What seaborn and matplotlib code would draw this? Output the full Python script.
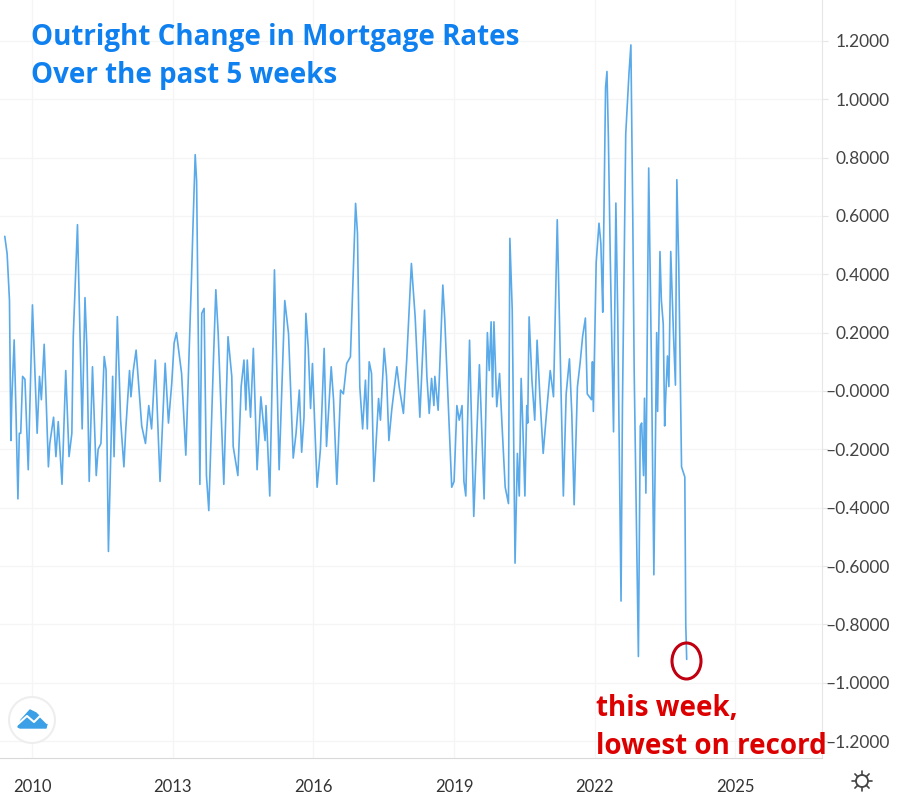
import matplotlib
matplotlib.use("Agg")
import matplotlib.pyplot as plt
from matplotlib.patches import Circle, Ellipse, Polygon
import numpy as np
import pandas as pd
import seaborn as sns

# dates as decimal years
years = [
	2009.42, 2009.47, 2009.52, 2009.55, 2009.57, 2009.62, 2009.66, 2009.70, 2009.73, 2009.76,
	2009.80, 2009.85, 2009.92, 2010.01, 2010.11, 2010.16, 2010.20, 2010.26, 2010.30, 2010.35,
	2010.38, 2010.46, 2010.51, 2010.56, 2010.64, 2010.72, 2010.79, 2010.85, 2010.88, 2010.97,
	2011.07, 2011.13, 2011.17, 2011.22, 2011.29, 2011.37, 2011.41, 2011.47, 2011.54, 2011.58,
	2011.63, 2011.72, 2011.75, 2011.82, 2011.89, 2011.96, 2012.00, 2012.08, 2012.11, 2012.16,
	2012.22, 2012.34, 2012.42, 2012.49, 2012.55, 2012.63, 2012.73, 2012.84, 2012.91, 2012.98,
	2013.03, 2013.08, 2013.19, 2013.28, 2013.40, 2013.43, 2013.48, 2013.51, 2013.58, 2013.62,
	2013.67, 2013.72, 2013.77, 2013.87, 2013.92, 2013.97, 2014.09, 2014.18, 2014.26, 2014.29,
	2014.39, 2014.46, 2014.52, 2014.56, 2014.59, 2014.66, 2014.72, 2014.80, 2014.88, 2014.97,
	2014.99, 2015.07, 2015.17, 2015.27, 2015.39, 2015.47, 2015.57, 2015.63, 2015.70, 2015.75,
	2015.80, 2015.84, 2015.89, 2015.94, 2015.98, 2016.08, 2016.15, 2016.23, 2016.28, 2016.38,
	2016.43, 2016.50, 2016.58, 2016.64, 2016.71, 2016.79, 2016.90, 2016.94, 2016.99, 2017.05,
	2017.11, 2017.15, 2017.19, 2017.24, 2017.29, 2017.39, 2017.43, 2017.51, 2017.56, 2017.61,
	2017.67, 2017.78, 2017.83, 2017.92, 2017.99, 2018.09, 2018.17, 2018.27, 2018.37, 2018.42,
	2018.47, 2018.52, 2018.57, 2018.59, 2018.66, 2018.76, 2018.80, 2018.84, 2018.95, 2019.00,
	2019.06, 2019.11, 2019.17, 2019.21, 2019.25, 2019.33, 2019.42, 2019.54, 2019.57, 2019.64,
	2019.71, 2019.75, 2019.79, 2019.82, 2019.85, 2019.91, 2019.97, 2020.02, 2020.09, 2020.16,
	2020.19, 2020.24, 2020.30, 2020.35, 2020.39, 2020.43, 2020.46, 2020.51, 2020.55, 2020.57,
	2020.60, 2020.66, 2020.72, 2020.77, 2020.83, 2020.90, 2020.97, 2021.05, 2021.12, 2021.20,
	2021.33, 2021.39, 2021.46, 2021.51, 2021.56, 2021.63, 2021.69, 2021.74, 2021.80, 2021.84,
	2021.93, 2021.95, 2021.97, 2022.03, 2022.09, 2022.13, 2022.17, 2022.18, 2022.23, 2022.26,
	2022.29, 2022.33, 2022.40, 2022.45, 2022.49, 2022.56, 2022.59, 2022.66, 2022.73, 2022.77,
	2022.81, 2022.84, 2022.93, 2022.97, 2023.00, 2023.04, 2023.06, 2023.09, 2023.15, 2023.21,
	2023.26, 2023.32, 2023.34, 2023.39, 2023.42, 2023.46, 2023.49, 2023.51, 2023.55, 2023.58,
	2023.62, 2023.68, 2023.72, 2023.75, 2023.79, 2023.85, 2023.92, 2023.94, 2023.96,
]
values = [
	0.53, 0.47, 0.31, -0.17, -0.03, 0.175, -0.08, -0.37, -0.145, -0.145,
	0.05, 0.04, -0.27, 0.295, -0.145, 0.05, -0.03, 0.16, -0.02, -0.26,
	-0.18, -0.09, -0.225, -0.105, -0.32, 0.07, -0.225, -0.145, 0.186, 0.57,
	-0.13, 0.32, 0.15, -0.31, 0.083, -0.29, -0.20, -0.18, 0.118, 0.072,
	-0.55, 0.05, -0.225, 0.255, -0.10, -0.26, -0.13, 0.07, -0.02, 0.07,
	0.14, -0.12, -0.18, -0.05, -0.13, 0.106, -0.31, 0.095, -0.11, 0.026,
	0.163, 0.20, 0.06, -0.22, 0.38, 0.55, 0.81, 0.72, -0.32, 0.266,
	0.283, -0.29, -0.41, 0.11, 0.347, 0.198, -0.32, 0.186, 0.05, -0.19,
	-0.29, 0.015, 0.106, -0.065, 0.106, -0.09, 0.146, -0.27, -0.02, -0.17,
	-0.05, -0.36, 0.415, -0.27, 0.31, 0.197, -0.23, -0.146, 0.003, -0.21,
	-0.09, 0.266, 0.15, -0.06, 0.094, -0.33, -0.20, 0.146, -0.19, 0.083,
	-0.03, -0.32, 0.003, -0.01, 0.094, 0.117, 0.643, 0.54, 0.014, -0.13,
	0.037, -0.13, 0.10, 0.06, -0.31, -0.026, -0.10, 0.146, 0.05, -0.17,
	-0.066, 0.083, 0.014, -0.077, 0.106, 0.437, 0.254, -0.09, 0.277, 0.05,
	-0.077, 0.043, -0.05, 0.05, -0.066, 0.363, 0.25, 0.094, -0.33, -0.31,
	-0.05, -0.10, -0.05, -0.31, -0.36, 0.174, -0.43, 0.09, -0.04, -0.37,
	0.20, 0.07, 0.237, -0.02, 0.237, -0.054, 0.06, -0.11, -0.33, -0.386,
	0.523, 0.277, -0.59, -0.214, -0.36, 0.043, -0.09, -0.36, -0.05, -0.11,
	0.254, 0.037, -0.10, 0.174, -0.02, -0.214, -0.077, 0.07, -0.02, 0.587,
	-0.36, -0.01, 0.11, -0.077, -0.39, 0.014, 0.10, 0.186, 0.25, -0.01,
	-0.03, 0.10, -0.07, 0.44, 0.575, 0.506, 0.27, 0.415, 1.04, 1.095,
	0.87, 0.46, -0.14, 0.644, 0.255, -0.72, -0.05, 0.88, 1.09, 1.186,
	0.60, 0.07, -0.91, -0.12, -0.11, -0.29, -0.025, -0.35, 0.764, 0.07,
	-0.63, 0.20, -0.07, 0.478, 0.31, 0.23, -0.12, -0.03, 0.12, 0.015,
	0.478, 0.186, 0.02, 0.724, 0.44, -0.26, -0.295, -0.80, -0.92,
]
yearTicks = [2010, 2013, 2016, 2019, 2022, 2025]
yTicks = [1.2, 1.0, 0.8, 0.6, 0.4, 0.2, 0.0, -0.2, -0.4, -0.6, -0.8, -1.0, -1.2]
yLabels = ['1.2000', '1.0000', '0.8000', '0.6000', '0.4000', '0.2000', '\u20130.0000',
	'\u20130.2000', '\u20130.4000', '\u20130.6000', '\u20130.8000', '\u20131.0000', '\u20131.2000']
titleLines = ['Outright Change in Mortgage Rates', 'Over the past 5 weeks']
noteLines = ['this week,', 'lowest on record']

sns.set_style('white')
plt.rcParams['font.family'] = ['Lato', 'DejaVu Sans']

W, H = 898, 798
fig = plt.figure(figsize=(W / 100, H / 100), dpi=100, facecolor='white')
ax = fig.add_axes([0, 1 - 758 / H, 822 / W, 758 / H])

df = pd.DataFrame({'year': years, 'value': values})
sns.lineplot(data=df, x='year', y='value', ax=ax, color='#5AAAEA', linewidth=1.2, estimator=None, sort=False)

ax.set_xlim(2009.318, 2026.845)
ax.set_ylim(-1.258, 1.34)
ax.set_xlabel('')
ax.set_ylabel('')
ax.set_xticks(yearTicks)
ax.set_xticklabels([str(y) for y in yearTicks])
ax.set_yticks(yTicks)
ax.set_yticklabels(yLabels)
ax.yaxis.tick_right()
ax.tick_params(axis='x', length=4, color='#e6e6e6', labelsize=12, labelcolor='#333333', pad=11)
ax.tick_params(axis='y', length=4, color='#e6e6e6', labelsize=12.5, labelcolor='#444444', pad=45, right=True)
for lab in ax.get_yticklabels():
	lab.set_ha('right')
ax.grid(True, color='#f5f5f5', linewidth=1)
ax.set_axisbelow(True)
for s in ['top', 'left']:
	ax.spines[s].set_visible(False)
ax.spines['right'].set_color('#e6e6e6')
ax.spines['bottom'].set_color('#d9d9d9')

# overlay in picture pixels for the notes and icons
over = fig.add_axes([0, 0, 1, 1], facecolor='none')
over.set_xlim(0, W)
over.set_ylim(H, 0)
over.axis('off')

over.text(31, 38, titleLines[0], color='#0F80F0', fontsize=20, family='Open Sans', fontweight='bold', va='center')
over.text(31, 76, titleLines[1], color='#0F80F0', fontsize=20, family='Open Sans', fontweight='bold', va='center')
over.text(596, 708, noteLines[0], color='#DC0000', fontsize=20, family='Open Sans', fontweight='bold', va='center')
over.text(596, 746, noteLines[1], color='#DC0000', fontsize=20, family='Open Sans', fontweight='bold', va='center')
over.add_patch(Ellipse((686.5, 661), 29, 36, fill=False, edgecolor='#C00010', linewidth=2.2))

# logo
over.add_patch(Circle((32, 720), 23, facecolor='white', edgecolor='#eeeeee', linewidth=1.5))
over.add_patch(Polygon([(18, 727), (21, 720), (30, 710), (36, 713), (41, 718), (47, 724), (46, 728), (20, 728)],
	closed=True, facecolor='#3BA0E6', edgecolor='#3BA0E6', linewidth=1, joinstyle='round'))
over.plot([18, 27, 34, 40, 47], [724, 716, 722, 716, 723], color='white', linewidth=1.5)

# settings icon
over.add_patch(Circle((862, 781), 6, fill=False, edgecolor='#444444', linewidth=1.3))
for a in np.arange(0, 360, 45):
	r = np.radians(a)
	over.plot([862 + 6 * np.cos(r), 862 + 10 * np.cos(r)], [781 + 6 * np.sin(r), 781 + 10 * np.sin(r)],
		color='#444444', linewidth=1.2)

fig.savefig('out.png', dpi=100)
